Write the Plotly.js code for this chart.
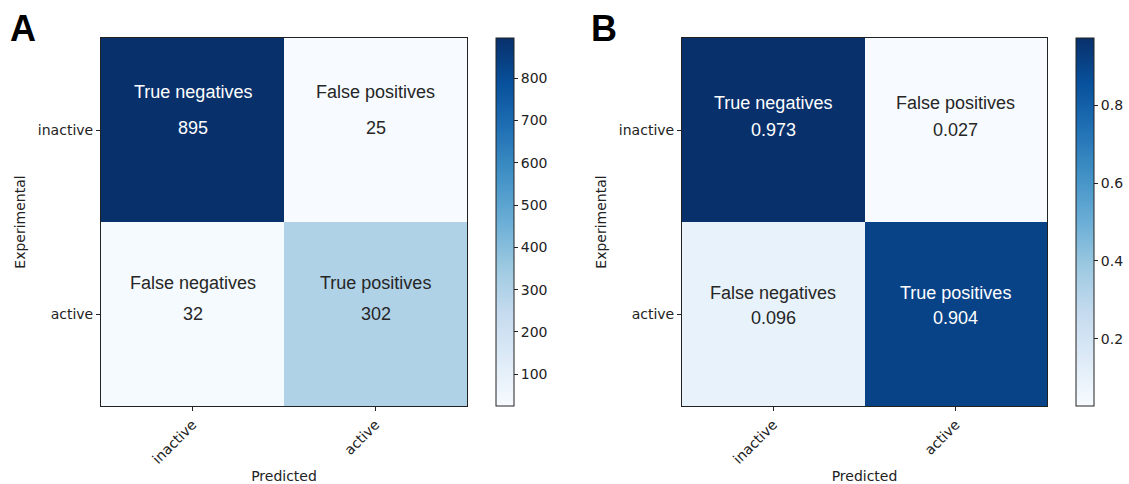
<!DOCTYPE html>
<html>
<head>
<meta charset="utf-8">
<script src="https://cdn.plot.ly/plotly-3.0.1.min.js"></script>
<style>html,body{margin:0;padding:0;background:#fff;}#chart{width:1129px;height:484px;}</style>
</head>
<body>
<div id="chart"></div>
<script>
const categories = ['inactive', 'active'];
const cellLabels = [['True negatives', 'False positives'], ['False negatives', 'True positives']];
const countsA = [[895, 25], [32, 302]];
const normB = [[0.973, 0.027], [0.096, 0.904]];
const numTextA = [['895', '25'], ['32', '302']];
const numTextB = [['0.973', '0.027'], ['0.096', '0.904']];

const W = 1129, H = 484;
const blues = [
  [0, '#f7fbff'], [0.125, '#deebf7'], [0.25, '#c6dbef'], [0.375, '#9ecae1'],
  [0.5, '#6baed6'], [0.625, '#4292c6'], [0.75, '#2171b5'], [0.875, '#08519c'], [1, '#08306b']
];
const tickFont = {family: 'DejaVu Sans', size: 14, color: '#222'};
const yTop = 1 - 38 / H, yBot = 1 - 406 / H;

function flat(m) { let a = []; m.forEach(r => r.forEach(v => a.push(v))); return a; }

function heat(z, xa, ya, cbx, dtick, fmt) {
  const vals = flat(z);
  return {
    type: 'heatmap', z: z, x: [0, 1], y: [0, 1], xaxis: xa, yaxis: ya,
    colorscale: blues, zmin: Math.min(...vals), zmax: Math.max(...vals),
    hoverinfo: 'skip',
    colorbar: {
      x: cbx / W, xanchor: 'left', xpad: 0, ypad: 0,
      y: yBot, yanchor: 'bottom', len: yTop - yBot, lenmode: 'fraction',
      thickness: 18, thicknessmode: 'pixels',
      outlinewidth: 1, outlinecolor: '#222',
      ticks: 'outside', ticklen: 4, tickcolor: '#222', tickwidth: 1,
      tick0: 0, dtick: dtick, tickformat: fmt, tickfont: tickFont
    }
  };
}

function annots(z, nums, xa, ya, labelShift, numShift) {
  const vals = flat(z);
  const thresh = (Math.max(...vals) + Math.min(...vals)) / 2;
  const out = [];
  for (let r = 0; r < 2; r++) for (let c = 0; c < 2; c++) {
    const col = z[r][c] > thresh ? '#ffffff' : '#262626';
    const f = {family: 'Liberation Sans, Arial', size: 18, color: col};
    out.push({xref: xa, yref: ya, x: c, y: r, text: cellLabels[r][c], showarrow: false, font: f, yshift: -labelShift[r]});
    out.push({xref: xa, yref: ya, x: c, y: r, text: nums[r][c], showarrow: false, font: f, yshift: -numShift[r]});
  }
  return out;
}

function xax(l, r) {
  return {
    domain: [l / W, r / W], range: [-0.5, 1.5], tickvals: [0, 1], ticktext: categories,
    tickangle: -45, ticks: 'outside', ticklen: 4, tickcolor: '#222',
    showline: true, mirror: true, linecolor: '#222', linewidth: 1,
    showgrid: false, zeroline: false, tickfont: tickFont, automargin: false, fixedrange: true,
    title: {text: 'Predicted', font: tickFont, standoff: 7}
  };
}
function yax(anchor) {
  return {
    domain: [yBot, yTop], range: [1.5, -0.5], tickvals: [0, 1], ticktext: categories,
    ticks: 'outside', ticklen: 4, tickcolor: '#222', anchor: anchor,
    showline: true, mirror: true, linecolor: '#222', linewidth: 1,
    showgrid: false, zeroline: false, tickfont: tickFont, automargin: false, fixedrange: true,
    title: {text: 'Experimental', font: tickFont, standoff: 8}
  };
}

const data = [
  heat(countsA, 'x', 'y', 496, 100, 'd'),
  heat(normB, 'x2', 'y2', 1076, 0.2, '.1f')
];

const letterFont = {family: 'Liberation Sans, Arial', size: 36, color: '#000'};
const layout = {
  width: W, height: H,
  margin: {l: 0, r: 0, t: 0, b: 0},
  paper_bgcolor: '#fff', plot_bgcolor: '#fff',
  showlegend: false,
  xaxis: Object.assign(xax(101, 467), {anchor: 'y'}),
  yaxis: yax('x'),
  xaxis2: Object.assign(xax(682, 1047), {anchor: 'y2'}),
  yaxis2: yax('x2'),
  annotations: [].concat(
    annots(countsA, numTextA, 'x', 'y', [-38, -31], [-2, 0]),
    annots(normB, numTextB, 'x2', 'y2', [-27, -21], [0, 4]),
    [
      {xref: 'paper', yref: 'paper', x: 23 / W, y: 1 - 29 / H, xanchor: 'center', yanchor: 'middle',
       text: '<b>A</b>', showarrow: false, font: letterFont},
      {xref: 'paper', yref: 'paper', x: 604 / W, y: 1 - 29 / H, xanchor: 'center', yanchor: 'middle',
       text: '<b>B</b>', showarrow: false, font: letterFont}
    ]
  )
};

Plotly.newPlot('chart', data, layout, {displayModeBar: false, staticPlot: true});
</script>
</body>
</html>
